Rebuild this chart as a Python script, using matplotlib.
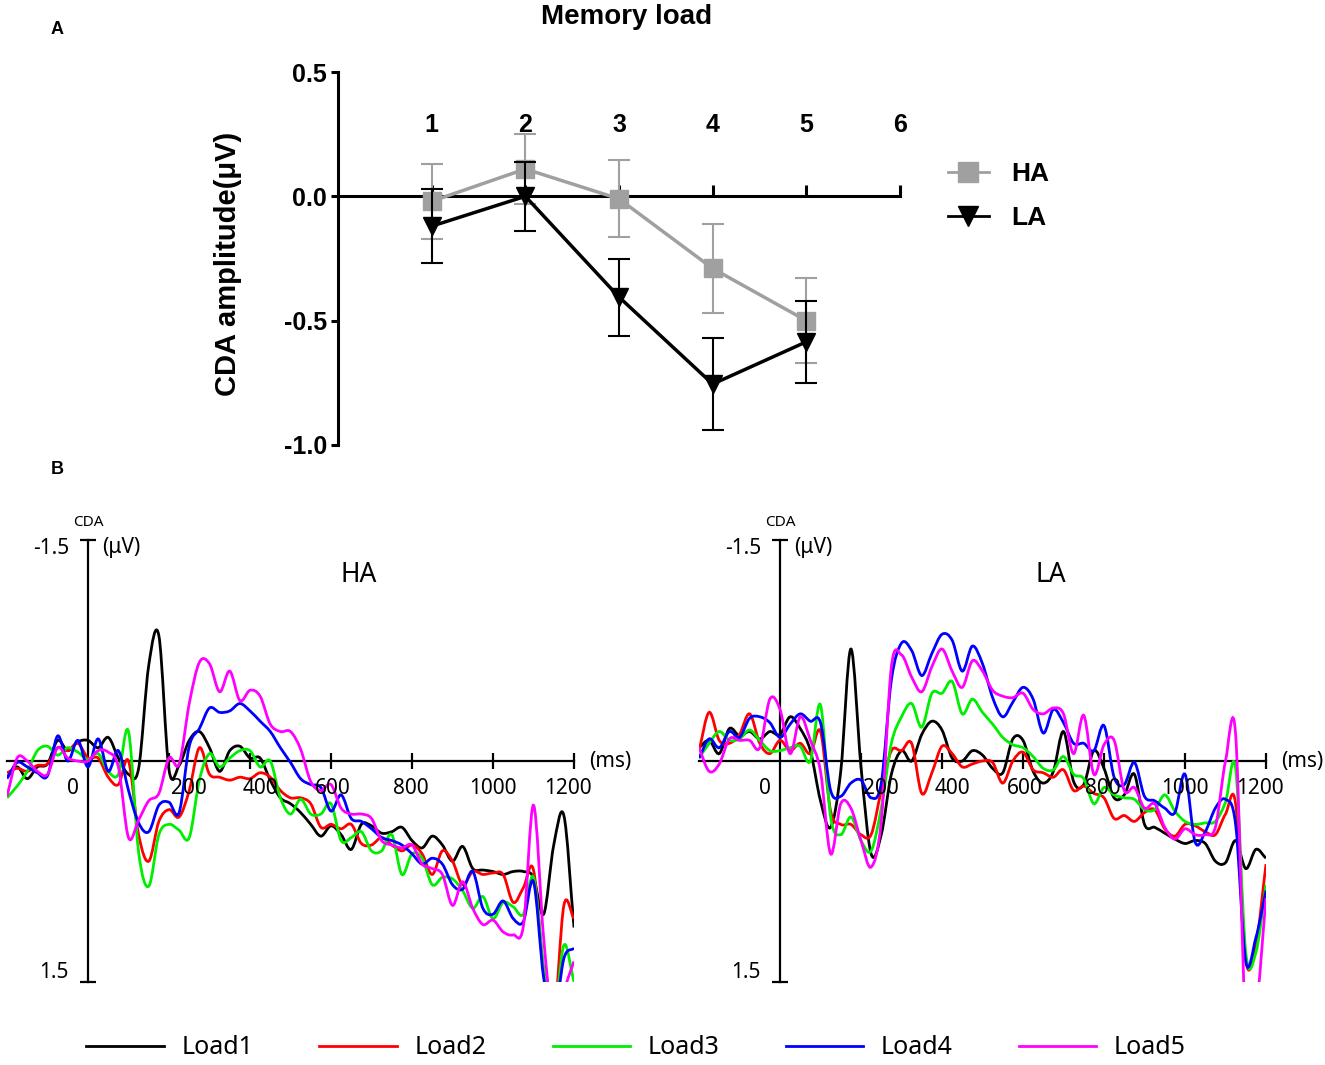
import numpy as np
import matplotlib.pyplot as plt
from matplotlib.path import Path
from matplotlib.patches import PathPatch
from matplotlib.lines import Line2D

# ---------- panel A: mean CDA amplitude per memory load ----------
loads = [1, 2, 3, 4, 5]
ha_mean = [-0.02, 0.11, -0.01, -0.29, -0.50]
ha_err = [0.15, 0.14, 0.155, 0.18, 0.17]
la_mean = [-0.12, 0.00, -0.405, -0.755, -0.585]
la_err = [0.15, 0.14, 0.155, 0.185, 0.165]
load_ticks = [1, 2, 3, 4, 5, 6]

# ---------- panel B: CDA waveforms (read every 25 ms) ----------
times = list(range(-200, 1201, 25))

ha_load1 = [0.11, 0.04, 0.12, 0.04, 0.02, -0.14, -0.07, -0.13, -0.14, -0.09, -0.16, -0.02, 0.09, 0.05,
            -0.65, -0.85, 0.06, 0.03, -0.14, -0.20, -0.09, 0.07, -0.07, -0.10, -0.02, -0.02, 0.13, 0.25,
            0.29, 0.35, 0.43, 0.51, 0.44, 0.50, 0.60, 0.43, 0.44, 0.49, 0.48, 0.45, 0.54, 0.59, 0.51,
            0.57, 0.68, 0.58, 0.73, 0.74, 0.75, 0.77, 0.75, 0.75, 0.79, 1.04, 0.57, 0.37, 1.13]
ha_load2 = [0.08, 0.05, 0.07, 0.03, 0.02, -0.09, -0.07, -0.12, -0.02, -0.02, 0.11, 0.16, 0.00, 0.50,
            0.68, 0.41, 0.33, 0.38, 0.20, -0.09, 0.09, 0.11, 0.13, 0.11, 0.12, 0.08, 0.11, 0.20,
            0.25, 0.25, 0.29, 0.45, 0.43, 0.46, 0.43, 0.56, 0.57, 0.52, 0.57, 0.61, 0.57, 0.63, 0.77,
            0.61, 0.68, 0.84, 0.75, 0.77, 0.76, 0.77, 0.96, 0.86, 0.74, 1.43, 1.75, 0.98, 1.07]
ha_load3 = [0.25, 0.17, 0.07, -0.07, -0.10, -0.04, -0.09, -0.06, -0.01, -0.05, 0.07, 0.09, -0.20, 0.62,
            0.85, 0.50, 0.43, 0.47, 0.52, 0.13, -0.05, 0.04, -0.02, -0.07, -0.07, 0.04, 0.00, 0.25,
            0.36, 0.26, 0.36, 0.36, 0.29, 0.54, 0.52, 0.48, 0.61, 0.61, 0.50, 0.77, 0.63, 0.66, 0.84,
            0.79, 0.80, 0.88, 1.00, 0.92, 1.07, 0.96, 0.99, 1.04, 0.79, 1.40, 1.75, 1.25, 1.50]
ha_load4 = [0.12, 0.01, 0.04, 0.08, 0.10, -0.17, 0.00, -0.14, 0.04, -0.15, 0.07, -0.07, 0.20, 0.42,
            0.48, 0.30, 0.28, 0.35, -0.10, -0.22, -0.36, -0.33, -0.34, -0.39, -0.34, -0.27, -0.20, -0.09,
            0.01, 0.12, 0.16, 0.18, 0.34, 0.23, 0.39, 0.41, 0.46, 0.52, 0.54, 0.57, 0.63, 0.70, 0.66,
            0.70, 0.84, 0.87, 0.75, 1.00, 1.04, 0.95, 1.07, 1.09, 0.82, 1.47, 1.75, 1.34, 1.27]
ha_load5 = [0.24, -0.02, 0.00, 0.07, 0.09, -0.09, -0.02, 0.00, 0.00, -0.07, -0.06, 0.04, 0.52, 0.40,
            0.27, 0.22, -0.02, 0.02, -0.39, -0.67, -0.66, -0.47, -0.61, -0.41, -0.48, -0.44, -0.25, -0.20,
            -0.20, -0.08, 0.14, 0.20, 0.16, 0.32, 0.36, 0.36, 0.39, 0.54, 0.57, 0.59, 0.57, 0.70, 0.73,
            0.77, 0.98, 0.82, 1.00, 1.11, 1.08, 1.16, 1.18, 1.12, 0.30, 1.20, 1.80, 1.56, 1.36]

la_load1 = [-0.09, -0.14, -0.05, -0.22, -0.17, -0.20, -0.15, -0.20, -0.18, -0.30, -0.22, -0.07, 0.27, 0.45,
            0.07, -0.76, 0.04, 0.63, 0.50, 0.09, -0.07, 0.00, -0.18, -0.27, -0.21, -0.02, 0.00, -0.07,
            -0.04, 0.05, 0.08, -0.15, -0.14, 0.07, 0.15, 0.07, -0.20, 0.14, 0.16, -0.07, 0.05, 0.25, 0.23,
            0.09, 0.43, 0.45, 0.49, 0.53, 0.56, 0.54, 0.56, 0.68, 0.69, 0.54, 0.73, 0.60, 0.66]
la_load2 = [-0.07, -0.33, -0.14, -0.12, -0.18, -0.32, -0.12, -0.05, -0.14, -0.07, -0.12, -0.05, -0.20, 0.34,
            0.43, 0.43, 0.50, 0.50, 0.20, -0.07, -0.07, -0.12, 0.22, 0.08, -0.10, -0.05, 0.04, 0.02,
            0.00, 0.01, 0.15, 0.00, -0.06, 0.06, 0.08, 0.11, 0.06, 0.20, 0.17, 0.22, 0.25, 0.39, 0.37,
            0.41, 0.35, 0.33, 0.46, 0.51, 0.43, 0.44, 0.48, 0.50, 0.36, 0.29, 1.35, 1.25, 0.70]
la_load3 = [-0.02, -0.12, -0.20, -0.14, -0.15, -0.21, -0.14, -0.07, -0.07, -0.09, -0.10, 0.00, -0.38, 0.38,
            0.50, 0.38, 0.54, 0.61, 0.32, -0.12, -0.30, -0.39, -0.23, -0.46, -0.46, -0.54, -0.32, -0.42,
            -0.33, -0.25, -0.16, -0.11, -0.09, -0.03, 0.05, 0.06, -0.03, 0.09, 0.12, 0.29, 0.18, 0.23, 0.25,
            0.26, 0.33, 0.33, 0.23, 0.34, 0.41, 0.43, 0.42, 0.41, 0.28, 0.05, 1.30, 1.30, 0.84]
la_load4 = [-0.02, -0.15, -0.09, -0.20, -0.16, -0.29, -0.30, -0.26, -0.16, -0.25, -0.32, -0.27, -0.26, 0.20,
            0.24, 0.15, 0.13, 0.25, 0.15, -0.55, -0.80, -0.75, -0.58, -0.73, -0.86, -0.82, -0.61, -0.78,
            -0.66, -0.43, -0.30, -0.40, -0.50, -0.42, -0.19, -0.35, -0.26, -0.12, -0.12, -0.07, -0.24, 0.11, 0.16,
            0.01, 0.24, 0.27, 0.32, 0.35, 0.09, 0.55, 0.48, 0.32, 0.26, 0.43, 1.36, 1.20, 0.88]
la_load5 = [-0.09, 0.07, 0.02, -0.15, -0.14, -0.14, -0.09, -0.42, -0.35, -0.05, -0.30, -0.14, 0.07, 0.63,
            0.29, 0.32, 0.54, 0.72, 0.41, -0.64, -0.72, -0.57, -0.47, -0.64, -0.76, -0.61, -0.50, -0.68,
            -0.61, -0.48, -0.44, -0.43, -0.46, -0.35, -0.32, -0.36, -0.32, -0.05, -0.31, 0.09, -0.11, -0.14, 0.20,
            0.18, 0.32, 0.29, 0.45, 0.53, 0.46, 0.50, 0.50, 0.45, 0.00, -0.18, 1.80, 1.70, 0.93]

load_names = ['Load1', 'Load2', 'Load3', 'Load4', 'Load5']
load_colors = ['black', '#ff0000', '#00ee00', '#0000ff', '#ff00ff']
ms_labels = ['0', '200', '400', '600', '800', '1000', '1200']
ms_label_pos = [-38, 250, 425, 605, 797, 1000, 1185]

sans = ['Noto Sans', 'DejaVu Sans']
arial = ['Liberation Sans', 'DejaVu Sans']


def smooth_path(x, y):
    # smooth curve through the read points (cubic Bezier segments)
    pts = np.column_stack([np.asarray(x, float), np.asarray(y, float)])
    ext = np.vstack([2 * pts[0] - pts[1], pts, 2 * pts[-1] - pts[-2]])
    verts = [pts[0]]
    codes = [Path.MOVETO]
    for i in range(1, len(ext) - 2):
        p0, p1, p2, p3 = ext[i - 1], ext[i], ext[i + 1], ext[i + 2]
        verts += [p1 + (p2 - p0) / 6, p2 - (p3 - p1) / 6, p2]
        codes += [Path.CURVE4] * 3
    return Path(verts, codes)


fig = plt.figure(figsize=(13.25, 10.65), dpi=100)

# ================= panel A =================
axA = fig.add_axes([338 / 1325, 1 - 445 / 1065, 562 / 1325, 373 / 1065])
axA.set_xlim(0, 6)
axA.set_ylim(-1.0, 0.5)
for s in ['top', 'right']:
    axA.spines[s].set_visible(False)
axA.spines['bottom'].set_position(('data', 0))
axA.spines['left'].set_linewidth(2.2)
axA.spines['bottom'].set_linewidth(2.2)
axA.set_xticks(load_ticks)
axA.set_xticklabels([])
axA.tick_params(axis='x', direction='in', length=8, width=2.2)
axA.set_yticks([0.5, 0.0, -0.5, -1.0])
axA.set_yticklabels(['0.5', '0.0', '-0.5', '-1.0'], fontfamily=arial, fontweight='bold', fontsize=18)
axA.tick_params(axis='y', direction='out', length=5, width=2.2, pad=3)

axA.errorbar(loads, ha_mean, yerr=ha_err, color='#a0a0a0', lw=2.5, marker='s', ms=13,
             elinewidth=1.5, capsize=8, capthick=1.5, zorder=3, label='HA')
axA.errorbar(loads, la_mean, yerr=la_err, color='black', lw=2.5, marker='v', ms=13,
             elinewidth=1.5, capsize=8, capthick=1.5, zorder=4, label='LA')

for t in load_ticks:
    axA.text(t, 0.286, str(t), ha='center', va='center', fontfamily=arial,
             fontweight='bold', fontsize=18)

hA = [Line2D([], [], color='#a0a0a0', lw=2.0, marker='s', ms=14),
      Line2D([], [], color='black', lw=2.0, marker='v', ms=14)]
fig.legend(hA, ['HA', 'LA'], loc='center left', bbox_to_anchor=(924 / 1325, 1 - 196 / 1065),
           frameon=False, handlelength=1.55, handletextpad=0.85, labelspacing=0.75,
           prop={'family': arial, 'weight': 'bold', 'size': 19})

fig.text(627 / 1325, 1 - 17 / 1065, 'Memory load', ha='center', va='center',
         fontfamily=arial, fontweight='bold', fontsize=20)
fig.text(228 / 1325, 1 - 264 / 1065, 'CDA amplitude(μV)', ha='center', va='center', rotation=90,
         fontfamily=arial, fontweight='bold', fontsize=21)
fig.text(57 / 1325, 1 - 30 / 1065, 'A', ha='center', va='center', fontfamily=arial,
         fontweight='bold', fontsize=13)
fig.text(57 / 1325, 1 - 470 / 1065, 'B', ha='center', va='center', fontfamily=arial,
         fontweight='bold', fontsize=13)

# ================= panel B =================
panels = [(7, 'HA', [ha_load1, ha_load2, ha_load3, ha_load4, ha_load5]),
          (699, 'LA', [la_load1, la_load2, la_load3, la_load4, la_load5])]

for left_px, name, series in panels:
    ax = fig.add_axes([left_px / 1325, 1 - 982 / 1065, 567 / 1325, 442 / 1065])
    ax.set_xlim(-200, 1200)
    ax.set_ylim(1.5, -1.5)
    for s in ['top', 'right']:
        ax.spines[s].set_visible(False)
    ax.spines['left'].set_position(('data', 0))
    ax.spines['bottom'].set_position(('data', 0))
    ax.spines['left'].set_linewidth(1.6)
    ax.spines['bottom'].set_linewidth(1.6)
    ax.set_xticks([200, 400, 600, 800, 1000, 1200])
    ax.set_yticks([-1.5, 1.5])
    ax.tick_params(axis='x', direction='inout', length=11, width=1.6, labelbottom=False)
    ax.tick_params(axis='y', direction='inout', length=12, width=1.6, labelleft=False)

    for vals, c in zip(series, load_colors):
        ax.add_patch(PathPatch(smooth_path(times, vals), facecolor='none', edgecolor=c,
                               lw=2.0, zorder=3))

    for lab, pos in zip(ms_labels, ms_label_pos):
        ax.annotate(lab, (pos, 0), xytext=(0, -27), textcoords='offset pixels',
                    ha='center', va='center', fontfamily=sans, fontsize=15)
    ax.annotate('(ms)', (1200, 0), xytext=(15, 0), textcoords='offset pixels',
                ha='left', va='center', fontfamily=sans, fontsize=15)
    ax.annotate('CDA', (0, -1.5), xytext=(0, 18), textcoords='offset pixels',
                ha='center', va='center', fontfamily=sans, fontsize=11)
    ax.annotate('-1.5', (0, -1.5), xytext=(-19, -8), textcoords='offset pixels',
                ha='right', va='center', fontfamily=sans, fontsize=15)
    ax.annotate('(μV)', (0, -1.5), xytext=(14, -8), textcoords='offset pixels',
                ha='left', va='center', fontfamily=sans, fontsize=15)
    ax.annotate('1.5', (0, 1.5), xytext=(-19, 9), textcoords='offset pixels',
                ha='right', va='center', fontfamily=sans, fontsize=15)
    ax.text(668, -1.26, name, ha='center', va='center', fontfamily=sans, fontsize=19)

hB = [Line2D([], [], color=c, lw=2.0) for c in load_colors]
fig.legend(hB, load_names, loc='center', bbox_to_anchor=(636 / 1325, 1 - 1048 / 1065), ncol=5,
           frameon=False, handlelength=3.1, handletextpad=0.7, columnspacing=2.65,
           prop={'family': sans, 'size': 18})

fig.savefig('out.png', dpi=100)
